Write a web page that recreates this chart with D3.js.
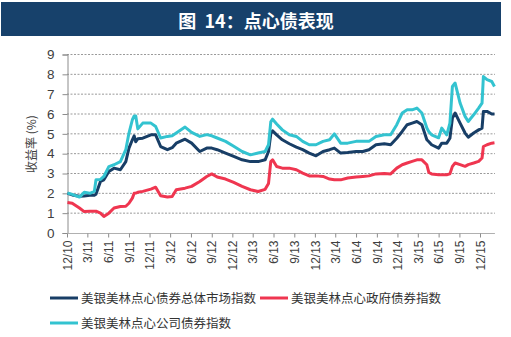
<!DOCTYPE html>
<html><head><meta charset="utf-8">
<script src="https://cdn.jsdelivr.net/npm/d3@7"></script>
<style>body{margin:0;background:#fff}svg{display:block}</style>
</head><body>
<script>
const title = "图  14：点心债表现";
const yLabel = "收益率 (%)";
const seriesNames = ["美银美林点心债券总体市场指数","美银美林点心政府债券指数","美银美林点心公司债券指数"];
const tickLabels = ["12/10","3/11","6/11","9/11","12/11","3/12","6/12","9/12","12/12","3/13","6/13","9/13","12/13","3/14","6/14","9/14","12/14","3/15","6/15","9/15","12/15"];
const yTicks = [0,1,2,3,4,5,6,7,8,9];
const dates = ["2010-12-03","2010-12-24","2011-01-25","2011-02-15","2011-03-12","2011-04-01","2011-04-08","2011-04-28","2011-05-13","2011-06-04","2011-06-27","2011-07-25","2011-08-18","2011-09-01","2011-09-16","2011-09-24","2011-10-01","2011-10-10","2011-11-01","2011-12-07","2011-12-28","2012-01-19","2012-02-18","2012-03-10","2012-03-28","2012-05-06","2012-06-04","2012-07-10","2012-08-10","2012-09-01","2012-09-25","2012-11-01","2012-12-07","2013-01-13","2013-02-19","2013-03-25","2013-04-25","2013-05-10","2013-05-20","2013-05-28","2013-06-15","2013-07-10","2013-08-10","2013-09-10","2013-10-08","2013-11-06","2013-12-06","2014-01-06","2014-02-04","2014-02-25","2014-03-25","2014-04-25","2014-06-01","2014-07-01","2014-07-28","2014-08-28","2014-10-04","2014-11-01","2014-11-28","2014-12-22","2015-01-13","2015-02-04","2015-02-25","2015-03-19","2015-04-10","2015-04-19","2015-05-01","2015-06-01","2015-06-15","2015-07-07","2015-07-21","2015-08-01","2015-08-13","2015-09-04","2015-09-26","2015-10-10","2015-11-03","2015-11-25","2015-12-10","2015-12-16","2016-01-01","2016-01-22","2016-02-03"];
const overall = [2.0,1.92,1.85,1.87,1.9,1.9,1.95,2.6,2.68,3.1,3.27,3.19,3.6,4.28,4.7,4.9,4.6,4.75,4.78,4.95,4.95,4.36,4.2,4.3,4.53,4.73,4.53,4.11,4.28,4.28,4.2,4.03,3.86,3.69,3.6,3.6,3.69,4.11,5.0,5.15,4.95,4.7,4.5,4.33,4.2,4.03,3.89,4.11,4.2,4.28,4.03,4.06,4.11,4.11,4.2,4.45,4.5,4.45,4.78,5.12,5.46,5.54,5.62,5.46,4.7,4.6,4.45,4.28,4.53,4.53,4.78,5.79,6.05,5.54,5.04,4.83,5.04,5.2,5.29,6.13,6.13,6.0,6.0];
const government = [1.54,1.5,1.26,1.08,1.1,1.1,1.1,1.0,0.83,1.0,1.26,1.34,1.35,1.5,1.76,2.0,2.01,2.05,2.1,2.21,2.31,1.88,1.82,1.84,2.18,2.26,2.35,2.6,2.85,2.98,2.82,2.72,2.55,2.35,2.18,2.09,2.2,2.5,3.6,3.69,3.35,3.27,3.27,3.19,3.02,2.88,2.88,2.85,2.72,2.68,2.68,2.77,2.82,2.85,2.88,2.98,3.0,2.98,3.27,3.44,3.53,3.61,3.69,3.69,3.44,3.05,2.98,2.94,2.94,2.94,2.98,3.36,3.53,3.45,3.36,3.45,3.53,3.61,3.78,4.36,4.45,4.53,4.55];
const corporate = [2.02,1.95,1.81,2.05,2.0,2.1,2.68,2.7,2.85,3.35,3.44,3.6,4.2,5.04,5.71,5.9,5.9,5.25,5.54,5.54,5.37,4.79,4.87,4.9,5.04,5.34,5.07,4.87,4.96,4.9,4.79,4.62,4.37,4.11,3.94,4.03,4.11,4.45,5.6,5.74,5.5,5.2,4.95,4.87,4.62,4.45,4.45,4.62,4.7,5.0,4.53,4.53,4.62,4.62,4.62,4.87,4.95,4.95,5.46,6.05,6.21,6.21,6.3,6.05,5.29,5.1,4.95,4.8,5.29,4.95,5.54,7.39,7.56,6.55,5.88,5.62,5.96,6.3,6.55,7.89,7.73,7.64,7.39];
const colors = ["#183e66","#ef3650","#33c3d0"];

const W = 511, H = 337;
const svg = d3.select("body").append("svg").attr("width", W).attr("height", H);
const font = "'Noto Sans CJK SC','Noto Sans',sans-serif";

// title bar
svg.append("rect").attr("x",1).attr("y",2).attr("width",500).attr("height",34).attr("fill","#17416b");
svg.append("text").attr("x",256).attr("y",28).attr("text-anchor","middle").style("white-space","pre")
  .attr("fill","#fff").attr("font-family",font).attr("font-weight","bold").attr("font-size",18).text(title);

const parse = d3.timeParse("%Y-%m-%d");
const x = d3.scaleTime().domain([parse("2010-12-01"), parse("2015-12-01")]).range([67, 480]);
const xEnd = x(parse("2016-02-05"));
const y = d3.scaleLinear().domain([0,9]).range([233,54.5]);

// gridlines
svg.append("g").selectAll("line").data(yTicks.filter(d=>d>0)).join("line")
  .attr("x1",67).attr("x2",xEnd).attr("y1",d=>y(d)).attr("y2",d=>y(d))
  .attr("stroke","#9a9a9a").attr("stroke-width",1).attr("stroke-dasharray","2,1.5");

// y axis
const yAxis = svg.append("g").attr("transform","translate(67.5,0)")
  .call(d3.axisLeft(y).tickValues(yTicks).tickSize(5).tickPadding(8).tickFormat(d3.format("d")));
yAxis.select(".domain").attr("stroke","#8c8c8c");
yAxis.selectAll(".tick line").attr("stroke","#8c8c8c");
yAxis.selectAll("text").attr("font-family","'Liberation Sans',Arial,sans-serif").attr("font-size",13.5).attr("fill","#404040");

svg.append("text").attr("transform","translate(36,144) rotate(-90)").attr("text-anchor","middle")
  .attr("font-family",font).attr("font-size",12).attr("fill","#404040").text(yLabel);

// x axis
const tickDates = tickLabels.map(s => { const [m,yy] = s.split("/"); return new Date(2000+ +yy, +m-1, 1); });
const xAxis = svg.append("g").attr("transform","translate(0,233.5)")
  .call(d3.axisBottom(x).tickValues(tickDates).tickSize(4).tickFormat((d,i)=>tickLabels[i]));
xAxis.select(".domain").attr("d", `M67,0H${xEnd}`).attr("stroke","#b0b0b0");
xAxis.selectAll(".tick line").attr("stroke","#8c8c8c");
xAxis.selectAll("text").attr("font-family","'Liberation Sans',Arial,sans-serif").attr("font-size",12).attr("fill","#404040")
  .attr("transform","rotate(-90)").attr("text-anchor","end").attr("x",-7).attr("y",0).attr("dy","0.35em");

// lines
const parsed = dates.map(parse);
const line = d3.line().x((d,i)=>x(parsed[i])).y(d=>y(d));
[overall, government, corporate].forEach((s,k)=>{
  svg.append("path").datum(s).attr("d",line).attr("fill","none")
    .attr("stroke",colors[k]).attr("stroke-width",3).attr("stroke-linejoin","round");
});

// legend
const leg = [{i:0,x:50,y:298},{i:1,x:260,y:298},{i:2,x:50,y:323}];
leg.forEach(l=>{
  svg.append("line").attr("x1",l.x).attr("x2",l.x+28).attr("y1",l.y).attr("y2",l.y)
    .attr("stroke",colors[l.i]).attr("stroke-width",3);
  svg.append("text").attr("x",l.x+31).attr("y",l.y+4.5).attr("font-family",font).attr("font-size",12.5)
    .attr("fill","#333").text(seriesNames[l.i]);
});
</script>
</body></html>
